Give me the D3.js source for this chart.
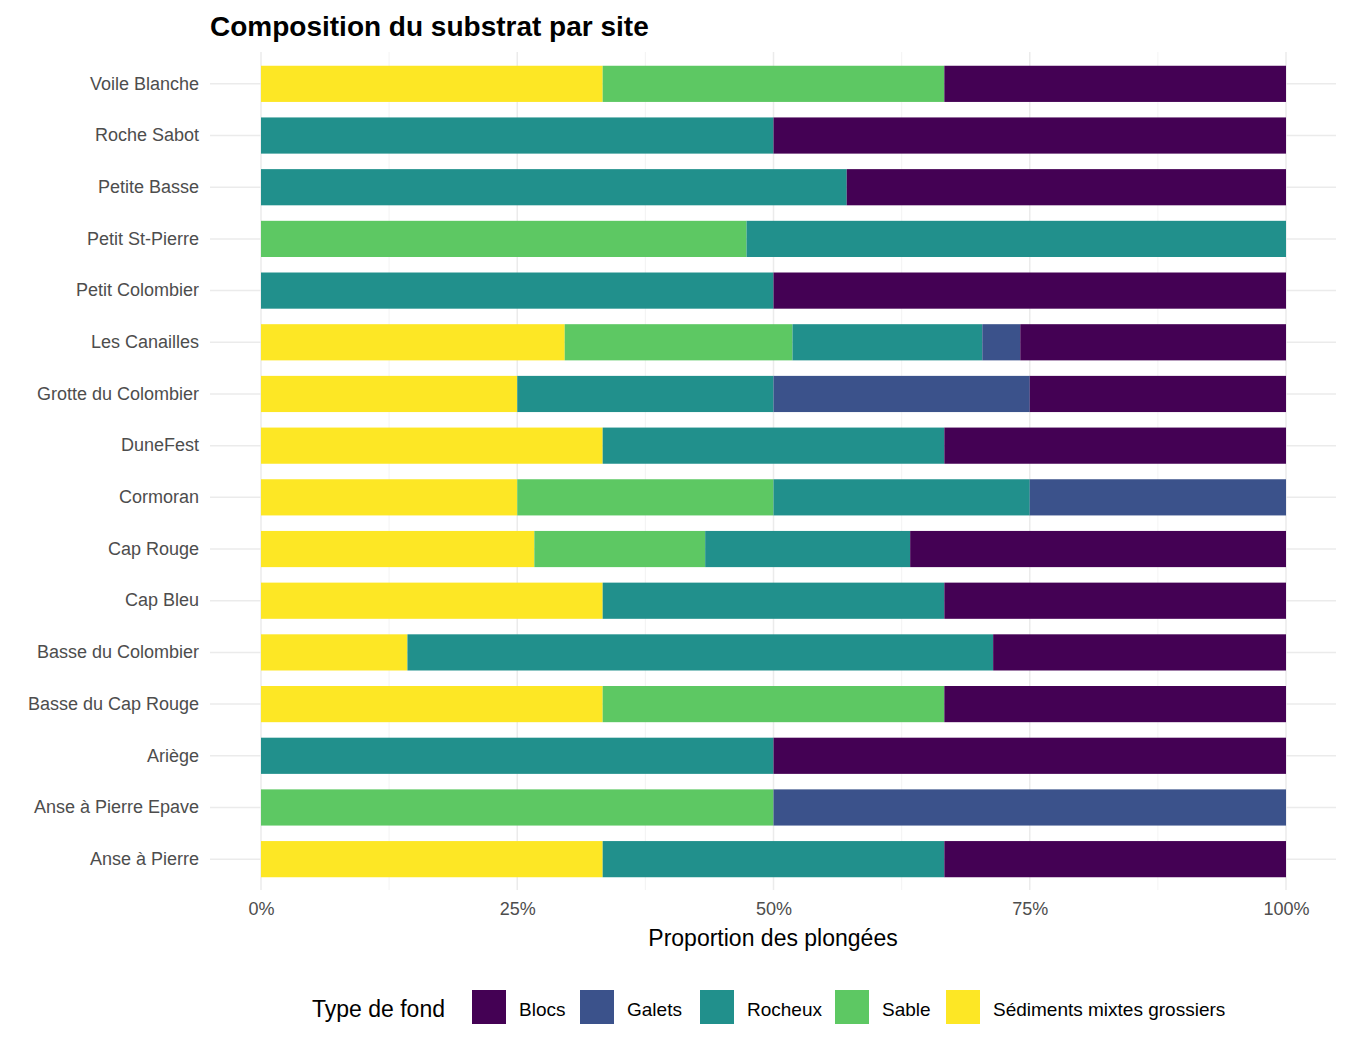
<!DOCTYPE html><html><head><meta charset="utf-8"><script src="https://cdn.jsdelivr.net/npm/d3@7"></script>
<style>body{margin:0;background:#fff}text{font-family:"Liberation Sans",Arial,sans-serif}</style></head><body><svg id="c" width="1350" height="1050"></svg>
<script>
const sites=["Voile Blanche","Roche Sabot","Petite Basse","Petit St-Pierre","Petit Colombier","Les Canailles","Grotte du Colombier","DuneFest","Cormoran","Cap Rouge","Cap Bleu","Basse du Colombier","Basse du Cap Rouge","Ariège","Anse à Pierre Epave","Anse à Pierre"];
const types=["Sédiments mixtes grossiers","Sable","Rocheux","Galets","Blocs"];
const legendOrder=["Blocs","Galets","Rocheux","Sable","Sédiments mixtes grossiers"];
const colors=["#FDE725","#5DC863","#21908C","#3B528B","#440154"];
// proportions per site in types order
const sediments=[1/3,0,0,0,0,8/27,0.25,1/3,0.25,8/30,1/3,1/7,1/3,0,0,1/3];
const sable=[1/3,0,0,9/19,0,6/27,0,0,0.25,5/30,0,0,1/3,0,0.5,0];
const rocheux=[0,0.5,4/7,10/19,0.5,5/27,0.25,1/3,0.25,6/30,1/3,4/7,0,0.5,0,1/3];
const galets=[0,0,0,0,0,1/27,0.25,0,0.25,0,0,0,0,0,0.5,0];
const blocs=[1/3,0.5,3/7,0,0.5,7/27,0.25,1/3,0,11/30,1/3,2/7,1/3,0.5,0,1/3];
const series=[sediments,sable,rocheux,galets,blocs];
const svg=d3.select("#c");
const x=d3.scaleLinear().domain([0,1]).range([261,1286]);
const y=d3.scaleBand().domain(sites).range([58,885]).paddingInner(0.3).paddingOuter(0.15);
const grid=svg.append("g");
[0.125,0.375,0.625,0.875].forEach(v=>grid.append("line").attr("x1",x(v)).attr("x2",x(v)).attr("y1",52).attr("y2",890).attr("stroke","#f0f0f0").attr("stroke-width",0.8));
[0,0.25,0.5,0.75,1].forEach(v=>grid.append("line").attr("x1",x(v)).attr("x2",x(v)).attr("y1",52).attr("y2",890).attr("stroke","#ebebeb").attr("stroke-width",1.5));
sites.forEach(s=>grid.append("line").attr("x1",210).attr("x2",1336).attr("y1",y(s)+y.bandwidth()/2).attr("y2",y(s)+y.bandwidth()/2).attr("stroke","#ebebeb").attr("stroke-width",1.5));
sites.forEach((s,i)=>{let acc=0;series.forEach((ser,k)=>{const v=ser[i];if(v>0){svg.append("rect").attr("x",x(acc)).attr("width",x(acc+v)-x(acc)).attr("y",y(s)).attr("height",y.bandwidth()).attr("fill",colors[k]);}acc+=v;});});
const ya=svg.append("g").attr("transform","translate(261,0)").call(d3.axisLeft(y).tickSize(0).tickPadding(62));
ya.select(".domain").remove();ya.selectAll("text").attr("font-size",18).attr("fill","#4d4d4d").style("font-family","Liberation Sans, Arial").attr("font-size","18px");
const xa=svg.append("g").attr("transform","translate(0,890)").call(d3.axisBottom(x).tickValues([0,0.25,0.5,0.75,1]).tickFormat(d3.format(".0%")).tickSize(0).tickPadding(12));
xa.select(".domain").remove();xa.selectAll("text").attr("fill","#4d4d4d").attr("font-size","18px");
svg.append("text").attr("x",773).attr("y",946).attr("text-anchor","middle").attr("font-size",23).text("Proportion des plongées");
svg.append("text").attr("x",210).attr("y",36).attr("font-size",28).attr("font-weight","bold").text("Composition du substrat par site");
const lg=svg.append("g");
lg.append("text").attr("x",312).attr("y",1017).attr("font-size",23).text("Type de fond");
const lx=[472,580,700,835,946];
legendOrder.forEach((t,i)=>{lg.append("rect").attr("x",lx[i]).attr("y",990).attr("width",34).attr("height",34).attr("fill",colors[types.indexOf(t)]);
lg.append("text").attr("x",lx[i]+47).attr("y",1016).attr("font-size",19).text(t);});
</script></body></html>
